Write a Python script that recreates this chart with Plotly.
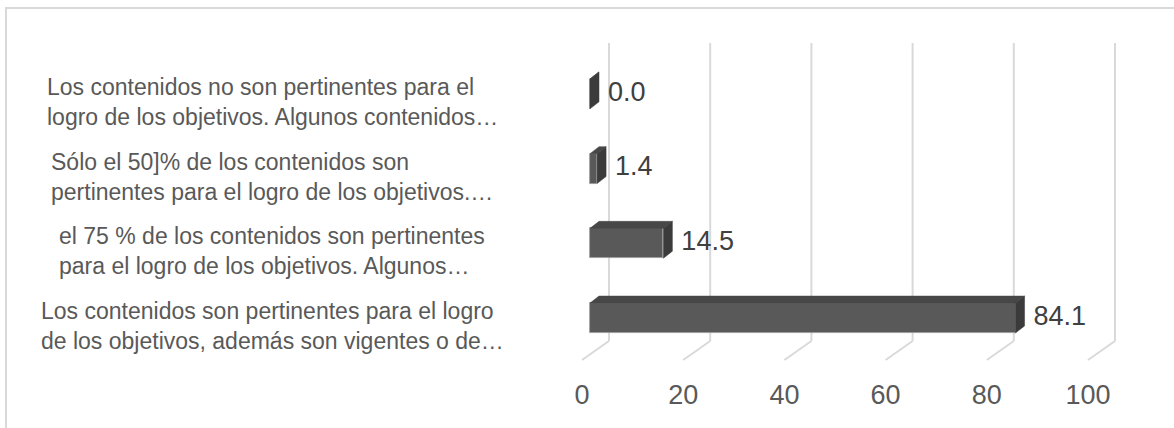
import plotly.graph_objects as go

# categories listed bottom to top, as they appear on the chart
categories = [
    "Los contenidos son pertinentes para el logro<br>de los objetivos, además son vigentes o de…",
    "el 75 % de los contenidos son pertinentes<br>para el logro de los objetivos. Algunos…",
    "Sólo el 50]% de los contenidos son<br>pertinentes para el logro de los objetivos.…",
    "Los contenidos no son pertinentes para el<br>logro de los objetivos. Algunos contenidos…",
]
values = [84.1, 14.5, 1.4, 0.0]
value_labels = ["84.1", "14.5", "1.4", "0.0"]
x_ticks = [0, 20, 40, 60, 80, 100]

FONT = "Liberation Sans, Arial, sans-serif"

# pixel geometry of the plot area (Excel 3D look)
PX = 5.06    # px per x unit
PY = 74.7    # px per category
L, R = 550, 1140
TOP, BOT = 8, 368
x_range = [(L - 590) / PX, (R - 590) / PX]
y_range = [(318 - BOT) / PY, (318 - TOP) / PY]

H = 0.2                  # half bar height
DX, DY = 9 / PX, 7 / PY  # bar depth
WALL_DX = 19 / PX        # back wall offset
FLOOR_DX = -8 / PX       # front floor offset
wall_top = (318 - 43) / PY
wall_bot = (318 - 341) / PY
floor_y = (318 - 360) / PY

ypos = list(range(len(categories)))


def px_x(p):
    return (p - L) / (R - L)


def px_y(p):
    return (BOT - p) / (BOT - TOP)


fig = go.Figure()

# gridlines on back wall + floor diagonals
shapes = []
for t in x_ticks:
    shapes.append(dict(type="line", xref="x", yref="y", layer="below",
                       x0=t + WALL_DX, x1=t + WALL_DX, y0=wall_bot, y1=wall_top,
                       line=dict(color="#d9d9d9", width=2)))
    shapes.append(dict(type="line", xref="x", yref="y", layer="below",
                       x0=t + WALL_DX, x1=t + FLOOR_DX, y0=wall_bot, y1=floor_y,
                       line=dict(color="#d9d9d9", width=2)))

# chart border
shapes.append(dict(type="rect", xref="paper", yref="paper", layer="below",
                   x0=px_x(6), x1=px_x(1200), y0=px_y(460), y1=px_y(8),
                   line=dict(color="#d9d9d9", width=2)))

# front faces
fig.add_trace(go.Bar(
    x=values, y=ypos, orientation="h", width=2 * H,
    marker=dict(color="#595959", line=dict(color="#9a9a9a", width=0.8)),
    hoverinfo="skip", showlegend=False,
))

# top and side faces
for v, k in zip(values, ypos):
    fig.add_trace(go.Scatter(
        x=[0, v, v + DX, DX, 0], y=[k + H, k + H, k + H + DY, k + H + DY, k + H],
        fill="toself", fillcolor="#474747", mode="lines",
        line=dict(color="#474747", width=0.5), hoverinfo="skip", showlegend=False,
    ))
    fig.add_trace(go.Scatter(
        x=[v, v, v + DX, v + DX, v], y=[k - H, k + H, k + H + DY, k - H + DY, k - H],
        fill="toself", fillcolor="#3b3b3b", mode="lines",
        line=dict(color="#3b3b3b", width=0.5), hoverinfo="skip", showlegend=False,
    ))

# value labels
fig.add_trace(go.Scatter(
    x=[v + 18 / PX for v in values], y=ypos, mode="text",
    text=value_labels, textposition="middle right",
    textfont=dict(family=FONT, size=27, color="#404040"),
    hoverinfo="skip", showlegend=False, cliponaxis=False,
))

# invisible trace to carry the tick-label axis
fig.add_trace(go.Scatter(
    x=[x_ticks[0], x_ticks[-1]], y=[0, 0], xaxis="x2", mode="markers",
    marker=dict(opacity=0), hoverinfo="skip", showlegend=False,
))

# category labels
annotations = []
for cat, k in zip(categories, ypos):
    annotations.append(dict(
        x=px_x(272), y=px_y(318 - k * PY + 8), xref="paper", yref="paper",
        text=cat, showarrow=False, xanchor="center", yanchor="middle", align="left",
        font=dict(family=FONT, size=23, color="#595959"),
    ))

fig.update_layout(
    width=1174, height=428,
    margin=dict(l=L, r=1174 - R, t=TOP, b=428 - BOT),
    paper_bgcolor="white", plot_bgcolor="white",
    shapes=shapes, annotations=annotations,
    xaxis=dict(range=x_range, showgrid=False, zeroline=False, showticklabels=False,
               showline=False, ticks=""),
    xaxis2=dict(range=[x_range[0] - FLOOR_DX, x_range[1] - FLOOR_DX], overlaying="x",
                anchor="y", side="bottom", tickvals=x_ticks, showgrid=False,
                zeroline=False, showline=False, ticks="", ticklabelstandoff=8,
                tickfont=dict(family=FONT, size=27, color="#595959")),
    yaxis=dict(range=y_range, showgrid=False, zeroline=False, showticklabels=False,
               showline=False, ticks=""),
    bargap=0,
)

fig.write_html("out.html", config={"displayModeBar": False},
               post_script="document.body.style.margin='0';")
